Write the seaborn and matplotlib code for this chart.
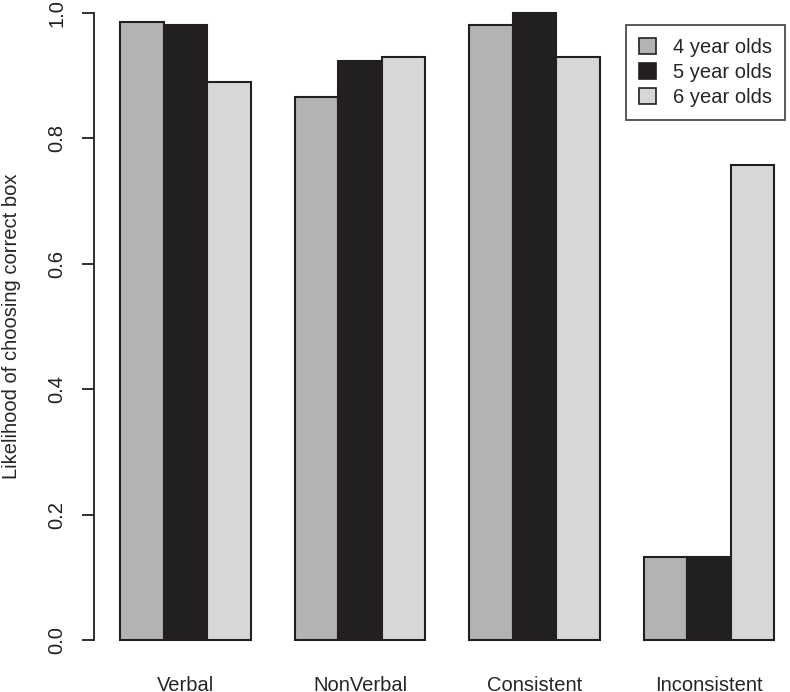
"""plot.py"""

import matplotlib.patches as mpatches
import matplotlib.pyplot as plt
import pandas as pd
import seaborn as sns

conditions = ["Verbal", "NonVerbal", "Consistent", "Inconsistent"]
age_groups = ["4 year olds", "5 year olds", "6 year olds"]
four_year = [0.986, 0.866, 0.981, 0.132]
five_year = [0.981, 0.923, 1.000, 0.132]
six_year = [0.890, 0.930, 0.930, 0.758]
colors = ["#b3b3b6", "#231f20", "#d6d7d8"]

W, H = 790, 692


def main():
    df = pd.DataFrame({
        "condition": conditions * 3,
        "age": [a for a in age_groups for _ in conditions],
        "value": four_year + five_year + six_year,
    })

    sns.set_style("white")
    plt.rcParams["font.family"] = ["Liberation Sans", "DejaVu Sans"]

    fig = plt.figure(figsize=(W / 100, H / 100), dpi=100)
    # axes placed so the y axis sits at x=94px, y=0 at 640px, y=1 at 13px
    ax = fig.add_axes([94 / W, 52 / H, (785 - 94) / W, 627 / H])

    sns.barplot(
        data=df, x="condition", y="value", hue="age",
        order=conditions, hue_order=age_groups, palette=colors,
        width=0.75, edgecolor="#231f20", linewidth=1.5,
        errorbar=None, legend=False, ax=ax,
    )
    for p in ax.patches:
        p.set_clip_on(False)

    ax.set_xlim(-0.524, -0.524 + (785 - 94) / 174.5)
    ax.set_ylim(0, 1.0)
    ax.set_yticks([0.0, 0.2, 0.4, 0.6, 0.8, 1.0])
    ax.set_yticklabels(["0.0", "0.2", "0.4", "0.6", "0.8", "1.0"],
                       rotation=90, va="center", fontsize=14.5)
    ax.tick_params(axis="y", length=9, width=1.3, pad=11, colors="#231f20",
                   left=True)
    ax.tick_params(axis="x", length=0, pad=26, labelsize=14.5)
    ax.set_xlabel("")
    ax.set_ylabel("Likelihood of choosing correct box", fontsize=14.5)
    ax.yaxis.set_label_coords((21 - 94) / 691, 0.5)

    for s in ["top", "right", "bottom"]:
        ax.spines[s].set_visible(False)
    ax.spines["left"].set_bounds(0, 1)
    ax.spines["left"].set_linewidth(1.3)
    ax.spines["left"].set_color("#231f20")

    handles = [mpatches.Patch(facecolor=c, edgecolor="#231f20", linewidth=1.2)
               for c in colors]
    leg = ax.legend(handles, age_groups, loc="upper right",
                    bbox_to_anchor=(785 / W, 1 - 25 / H),
                    bbox_transform=fig.transFigure, fontsize=14.5,
                    frameon=True, fancybox=False, handlelength=0.85,
                    handleheight=0.85, handletextpad=0.85, labelspacing=0.3,
                    borderpad=0.65, borderaxespad=0)
    leg.get_frame().set_edgecolor("#231f20")
    leg.get_frame().set_linewidth(1.3)

    fig.savefig("out.png", dpi=100)


if __name__ == "__main__":
    main()
